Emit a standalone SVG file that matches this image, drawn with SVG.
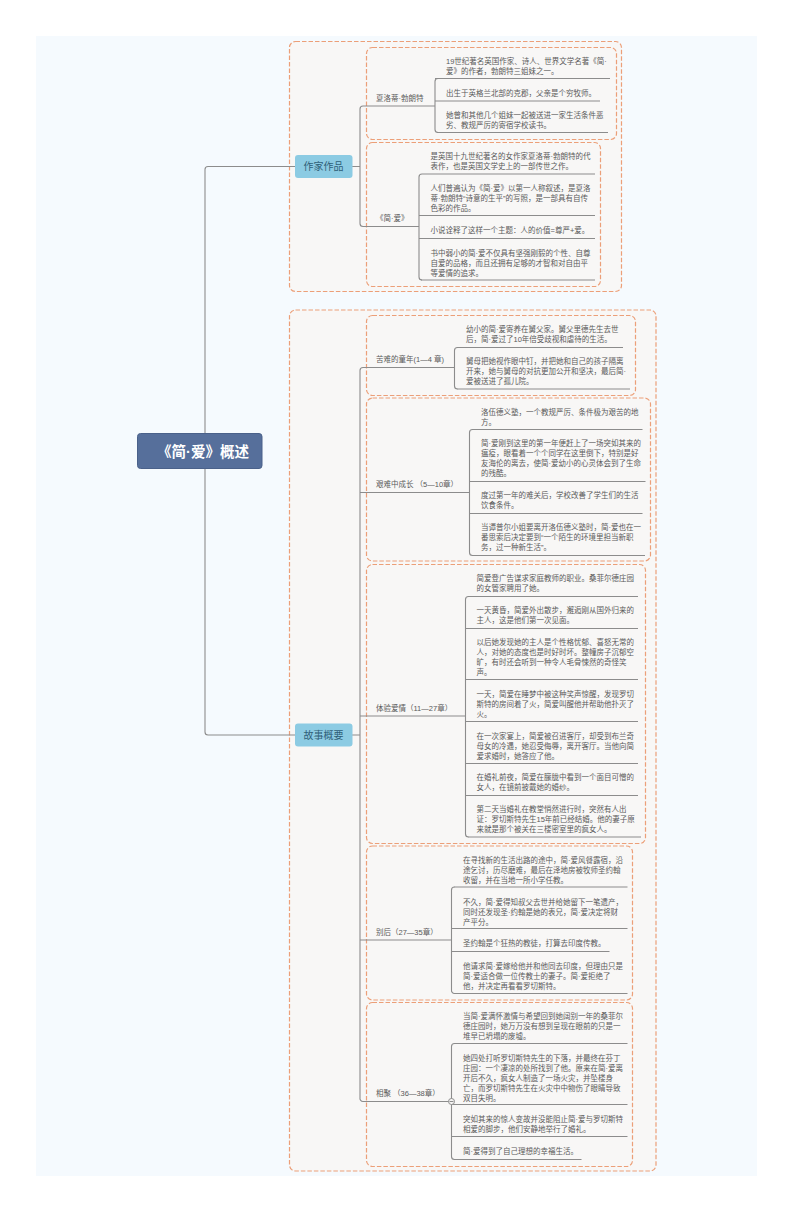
<svg xmlns="http://www.w3.org/2000/svg" width="794" height="1212" viewBox="0 0 794 1212">
<style>
text{font-family:"Liberation Sans","Noto Sans CJK SC",sans-serif}
.bg{fill:#f5fafe}
.b{fill:#f8f7f6;stroke:#ec9f78;stroke-width:1.2;stroke-dasharray:4.500 2}
.c{fill:none;stroke:#8c8c8c;stroke-width:1.1}
.u{fill:none;stroke:#8c8c8c;stroke-width:1.1}
.t{font-size:7.500px;fill:#5a5a5a}
.l{font-size:7.500px;fill:#5a5a5a}
.m{fill:#8ccbe3}
.mt{font-size:10px;fill:#2f5f78;text-anchor:middle}
.r{fill:#566f9b;stroke:#4a618a}
.rt{font-size:14.500px;font-weight:700;fill:#fff;text-anchor:middle}
</style>
<rect class="bg" x="36" y="36" width="721" height="1140"/>
<g id="boundaries">
<rect class="b" x="289.500" y="41.500" width="332" height="250" rx="6"/>
<rect class="b" x="366.500" y="47.500" width="250" height="92" rx="6"/>
<rect class="b" x="366.500" y="142.500" width="234" height="144" rx="6"/>
<rect class="b" x="289.500" y="310" width="366.500" height="861" rx="6"/>
<rect class="b" x="366.500" y="315.500" width="269" height="80" rx="6"/>
<rect class="b" x="366.500" y="398" width="284" height="163" rx="6"/>
<rect class="b" x="366.500" y="564.500" width="279" height="279" rx="6"/>
<rect class="b" x="366.500" y="846" width="266" height="154" rx="6"/>
<rect class="b" x="366.500" y="1002.500" width="266" height="164" rx="6"/>
</g>
<g id="connectors">
<path class="c" d="M295 166.500H208a3 3 0 0 0-3 3V732a3 3 0 0 0 3 3H295"/>
<path class="c" d="M352 166.500H360M363 106a3 3 0 0 0-3 3V223.500a3 3 0 0 0 3 3"/>
<path class="c" d="M352 735H360M363 367.500a3 3 0 0 0-3 3V1098a3 3 0 0 0 3 3.500"/>
<path class="c" d="M363 106H435M363 226.500H419M363 367.500H454.500M360 492.500H469.500M360 716H465.500M360 940H451.500M363 1101.500H451.500"/>
<path class="c" d="M438 78.500a3 3 0 0 0-3 3V129.500a3 3 0 0 0 3 3"/>
<path class="c" d="M422 174a3 3 0 0 0-3 3V277a3 3 0 0 0 3 3"/>
<path class="c" d="M457.500 347.500a3 3 0 0 0-3 3V386a3 3 0 0 0 3 3"/>
<path class="c" d="M472.500 429.500a3 3 0 0 0-3 3V552.500a3 3 0 0 0 3 3"/>
<path class="c" d="M468.500 596.500a3 3 0 0 0-3 3V834a3 3 0 0 0 3 3"/>
<path class="c" d="M454.500 887a3 3 0 0 0-3 3V990a3 3 0 0 0 3 3.500"/>
<path class="c" d="M454.500 1043.500a3 3 0 0 0-3 3V1156.500a3 3 0 0 0 3 3"/>
</g>
<g id="root"><rect class="r" x="137.500" y="433.500" width="124.500" height="35" rx="3"/><text class="rt" x="203" y="456.500">《简·爱》概述</text></g>
<g id="topic-1"><rect class="m" x="295" y="155" width="57.500" height="23" rx="3"/><text class="mt" x="323.500" y="170">作家作品</text></g>
<g id="topic-2"><rect class="m" x="295" y="723.500" width="57.500" height="23" rx="3"/><text class="mt" x="323.500" y="738.500">故事概要</text></g>
<g id="s1"><text class="l" x="376" y="100.500">夏洛蒂·勃朗特</text></g>
<g id="s1-1"><text class="t" x="446" y="63.500">19世纪著名英国作家、诗人、世界文学名著《简·</text><text class="t" x="446" y="73.500">爱》的作者，勃朗特三姐妹之一。</text><path class="u" d="M435 78.500H610"/></g>
<g id="s1-2"><text class="t" x="446" y="96">出生于英格兰北部的克郡，父亲是个穷牧师。</text><path class="u" d="M435 101H600"/></g>
<g id="s1-3"><text class="t" x="446" y="118">她曾和其他几个姐妹一起被送进一家生活条件恶</text><text class="t" x="446" y="128">劣、教规严厉的寄宿学校读书。</text><path class="u" d="M437 132.500H608"/></g>
<g id="s2"><text class="l" x="376" y="221">《简·爱》</text></g>
<g id="s2-1"><text class="t" x="430.500" y="159">是英国十九世纪著名的女作家夏洛蒂·勃朗特的代</text><text class="t" x="430.500" y="169">表作，也是英国文学史上的一部传世之作。</text><path class="u" d="M422 174H595"/></g>
<g id="s2-2"><text class="t" x="430.500" y="191">人们普遍认为《简·爱》以第一人称叙述，是夏洛</text><text class="t" x="430.500" y="201">蒂·勃朗特“诗意的生平”的写照，是一部具有自传</text><text class="t" x="430.500" y="211">色彩的作品。</text><path class="u" d="M419 215.500H595"/></g>
<g id="s2-3"><text class="t" x="430.500" y="233">小说诠释了这样一个主题：人的价值=尊严+爱。</text><path class="u" d="M419 238.500H595"/></g>
<g id="s2-4"><text class="t" x="430.500" y="255.500">书中弱小的简·爱不仅具有坚强刚毅的个性、自尊</text><text class="t" x="430.500" y="265.500">自爱的品格，而且还拥有足够的才智和对自由平</text><text class="t" x="430.500" y="275.500">等爱情的追求。</text><path class="u" d="M421 280H595"/></g>
<g id="s3"><text class="l" x="376" y="362">苦难的童年(1—4 章)</text></g>
<g id="s3-1"><text class="t" x="466" y="332">幼小的简·爱寄养在舅父家。舅父里德先生去世</text><text class="t" x="466" y="342">后，简·爱过了10年倍受歧视和虐待的生活。</text><path class="u" d="M457 347.500H623"/></g>
<g id="s3-2"><text class="t" x="466" y="364">舅母把她视作眼中钉，并把她和自己的孩子隔离</text><text class="t" x="466" y="374">开来，她与舅母的对抗更加公开和坚决，最后简·</text><text class="t" x="466" y="384">爱被送进了孤儿院。</text><path class="u" d="M457 389H630"/></g>
<g id="s4"><text class="l" x="376" y="487">艰难中成长 （5—10章）</text></g>
<g id="s4-1"><text class="t" x="481" y="415">洛伍德义塾，一个教规严厉、条件极为艰苦的地</text><text class="t" x="481" y="425">方。</text><path class="u" d="M472 429.500H642.500"/></g>
<g id="s4-2"><text class="t" x="481" y="446">简·爱刚到这里的第一年便赶上了一场突如其来的</text><text class="t" x="481" y="456">瘟疫，眼看着一个个同学在这里倒下，特别是好</text><text class="t" x="481" y="466">友海伦的离去，使简·爱幼小的心灵体会到了生命</text><text class="t" x="481" y="476">的残酷。</text><path class="u" d="M469.500 481.500H645.500"/></g>
<g id="s4-3"><text class="t" x="481" y="498">度过第一年的难关后，学校改善了学生们的生活</text><text class="t" x="481" y="508">饮食条件。</text><path class="u" d="M469.500 513.500H642.500"/></g>
<g id="s4-4"><text class="t" x="481" y="530">当谭普尔小姐要离开洛伍德义塾时，简·爱也在一</text><text class="t" x="481" y="540">番思索后决定要到“一个陌生的环境里担当新职</text><text class="t" x="481" y="550">务，过一种新生活”。</text><path class="u" d="M472 555.500H645"/></g>
<g id="s5"><text class="l" x="376" y="711">体验爱情（11—27章）</text></g>
<g id="s5-1"><text class="t" x="476.500" y="581">简爱登广告谋求家庭教师的职业。桑菲尔德庄园</text><text class="t" x="476.500" y="591">的女管家聘用了她。</text><path class="u" d="M468 596.500H638"/></g>
<g id="s5-2"><text class="t" x="476.500" y="613">一天黄昏，简爱外出散步，邂逅刚从国外归来的</text><text class="t" x="476.500" y="623">主人，这是他们第一次见面。</text><path class="u" d="M465.500 628.500H638"/></g>
<g id="s5-3"><text class="t" x="476.500" y="644.500">以后她发现她的主人是个性格忧郁、喜怒无常的</text><text class="t" x="476.500" y="654.500">人，对她的态度也是时好时坏。整幢房子沉郁空</text><text class="t" x="476.500" y="664.500">旷，有时还会听到一种令人毛骨悚然的奇怪笑</text><text class="t" x="476.500" y="674.500">声。</text><path class="u" d="M465.500 679.500H638"/></g>
<g id="s5-4"><text class="t" x="476.500" y="697">一天，简爱在睡梦中被这种笑声惊醒，发现罗切</text><text class="t" x="476.500" y="707">斯特的房间着了火，简爱叫醒他并帮助他扑灭了</text><text class="t" x="476.500" y="717">火。</text><path class="u" d="M465.500 721.500H638"/></g>
<g id="s5-5"><text class="t" x="476.500" y="738.500">在一次家宴上，简爱被召进客厅，却受到布兰奇</text><text class="t" x="476.500" y="748.500">母女的冷遇，她忍受侮辱，离开客厅。当他向简</text><text class="t" x="476.500" y="758.500">爱求婚时，她答应了他。</text><path class="u" d="M465.500 763.500H638"/></g>
<g id="s5-6"><text class="t" x="476.500" y="780">在婚礼前夜，简爱在朦胧中看到一个面目可憎的</text><text class="t" x="476.500" y="790">女人，在镜前披戴她的婚纱。</text><path class="u" d="M465.500 795.500H638"/></g>
<g id="s5-7"><text class="t" x="476.500" y="812">第二天当婚礼在教堂悄然进行时，突然有人出</text><text class="t" x="476.500" y="822">证：罗切斯特先生15年前已经结婚。他的妻子原</text><text class="t" x="476.500" y="832">来就是那个被关在三楼密室里的疯女人。</text><path class="u" d="M468 837H641"/></g>
<g id="s6"><text class="l" x="376" y="935">别后（27—35章）</text></g>
<g id="s6-1"><text class="t" x="463" y="862.500">在寻找新的生活出路的途中，简·爱风餐露宿，沿</text><text class="t" x="463" y="872.500">途乞讨，历尽磨难，最后在泽地房被牧师圣约翰</text><text class="t" x="463" y="882.500">收留，并在当地一所小学任教。</text><path class="u" d="M454 887H627.500"/></g>
<g id="s6-2"><text class="t" x="463" y="904.500">不久，简·爱得知叔父去世并给她留下一笔遗产，</text><text class="t" x="463" y="914.500">同时还发现圣·约翰是她的表兄，简·爱决定将财</text><text class="t" x="463" y="924.500">产平分。</text><path class="u" d="M451.500 928.500H627.500"/></g>
<g id="s6-3"><text class="t" x="463" y="946">圣约翰是个狂热的教徒，打算去印度传教。</text><path class="u" d="M451.500 951.500H609.500"/></g>
<g id="s6-4"><text class="t" x="463" y="969">他请求简·爱嫁给他并和他同去印度，但理由只是</text><text class="t" x="463" y="979">简·爱适合做一位传教士的妻子。简·爱拒绝了</text><text class="t" x="463" y="989">他，并决定再看看罗切斯特。</text><path class="u" d="M454 993.500H627.500"/></g>
<g id="s7"><text class="l" x="376" y="1096">相聚 （36—38章）</text></g>
<g id="s7-1"><text class="t" x="463" y="1019">当简·爱满怀激情与希望回到她阔别一年的桑菲尔</text><text class="t" x="463" y="1029">德庄园时，她万万没有想到呈现在眼前的只是一</text><text class="t" x="463" y="1039">堆早已坍塌的废墟。</text><path class="u" d="M454 1043.500H627.500"/></g>
<g id="s7-2"><text class="t" x="463" y="1061">她四处打听罗切斯特先生的下落，并最终在芬丁</text><text class="t" x="463" y="1071">庄园：一个凄凉的处所找到了他。原来在简·爱离</text><text class="t" x="463" y="1081">开后不久，疯女人制造了一场火灾，并坠楼身</text><text class="t" x="463" y="1091">亡，而罗切斯特先生在火灾中中物伤了眼睛导致</text><text class="t" x="463" y="1101">双目失明。</text><path class="u" d="M451.500 1104.500H627.500"/></g>
<g id="s7-3"><text class="t" x="463" y="1121.500">突如其来的惊人变故并没能阻止简·爱与罗切斯特</text><text class="t" x="463" y="1131.500">相爱的脚步，他们安静地举行了婚礼。</text><path class="u" d="M451.500 1136.500H627.500"/></g>
<g id="s7-4"><text class="t" x="463" y="1154">简·爱得到了自己理想的幸福生活。</text><path class="u" d="M454 1159.500H581.500"/></g>
<g id="collapse"><circle cx="451.500" cy="1101.500" r="3" fill="#f8f7f6" stroke="#8c8c8c"/><path class="c" d="M449.500 1101.500H453.500"/></g>
</svg>
